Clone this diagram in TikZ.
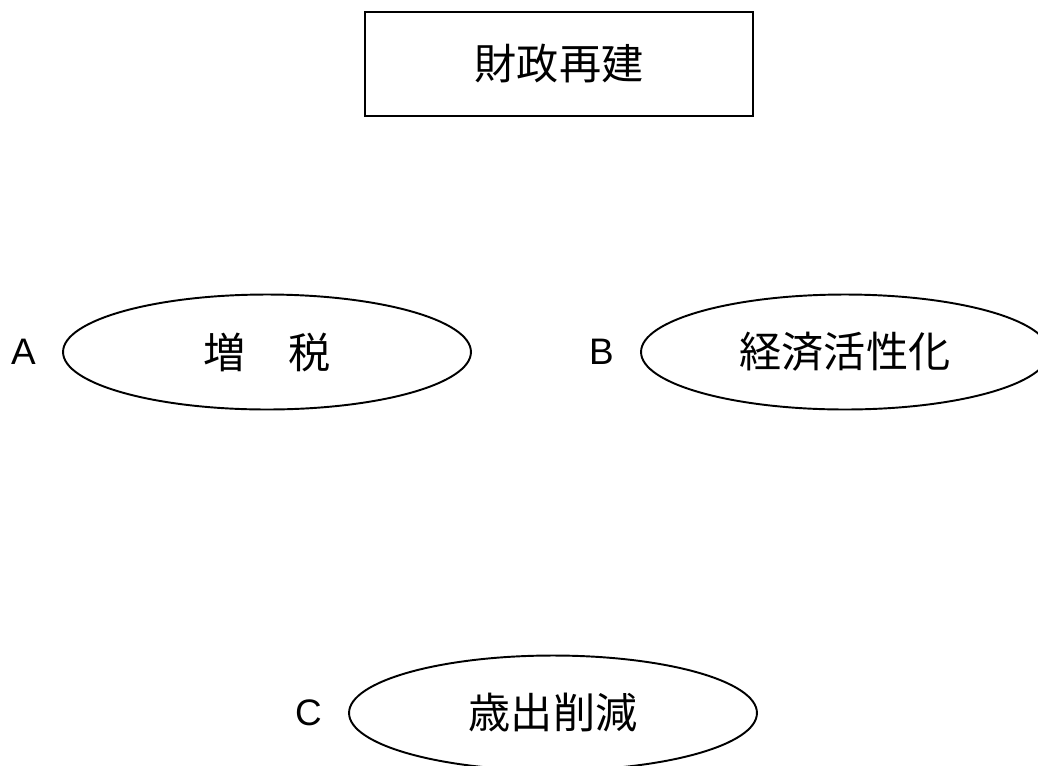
\documentclass[tikz,border=0pt]{standalone}
\usepackage{fontspec}
\setmainfont{Liberation Sans}
\newfontfamily\jpfont{Noto Sans CJK JP}
\usetikzlibrary{positioning}
\usetikzlibrary{shapes.geometric}
\tikzset{ov/.style={ellipse,draw,line width=1.1pt,inner sep=0pt,minimum width=8.16cm,minimum height=2.3cm,font=\fontsize{24}{28}\jpfont}}
\tikzset{lbl/.style={inner sep=0pt,font=\fontsize{21}{25}\selectfont}}

\begin{document}
\begin{tikzpicture}[x=0.02cm, y=-0.02cm]
        \useasboundingbox (0,0) rectangle (1038,765);
        \node[draw, line width=1.6pt, minimum width=7.76cm, minimum height=2.08cm, font=\fontsize{24}{28}\jpfont] (T) at (559,64) {財政再建};
        \node[ov] (eA) at (267,352) {増　税};
        \node[ov] (eB) at (845,352) {経済活性化};
        \node[ov] (eC) at (553,713) {歳出削減};
        \node[lbl, left=0.52cm of eA] (A) {A};
        \node[lbl, left=0.52cm of eB] (B) {B};
        \node[lbl, left=0.52cm of eC] (C) {C};
    \end{tikzpicture}
\end{document}
